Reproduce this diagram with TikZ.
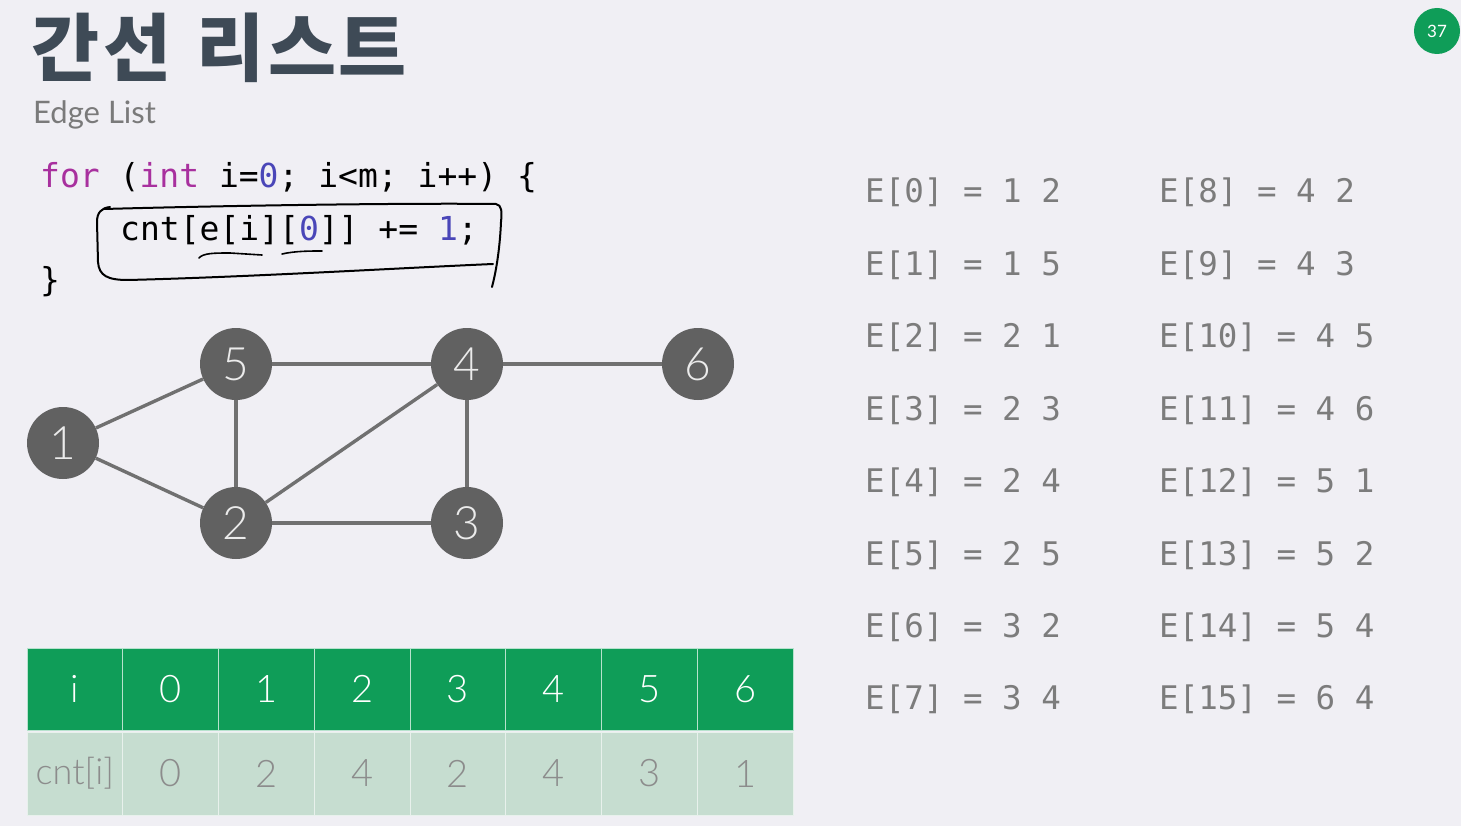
\documentclass[tikz,border=0pt]{standalone}
\usepackage{fontspec}
\setmainfont{Lato}
\newfontfamily\krfont{Noto Sans CJK KR}
\newfontfamily\codefont{DejaVu Sans Mono}
\newfontfamily\lightfont{Lato Light}
\definecolor{bg}{HTML}{F0EFF4}
\definecolor{titlecol}{HTML}{3E4A56}
\definecolor{subcol}{HTML}{7A7A7A}
\definecolor{kwcol}{HTML}{A8309E}
\definecolor{numcol}{HTML}{4A46B8}
\definecolor{nodecol}{HTML}{616161}
\definecolor{edgecol}{HTML}{707070}
\definecolor{hdrgreen}{HTML}{0F9D58}
\definecolor{rowgreen}{HTML}{C6DDD0}
\definecolor{listcol}{HTML}{7C7C7C}
\begin{document}
\begin{tikzpicture}[x=1pt,y=-1pt,
  vertex/.style={circle, fill=nodecol, minimum size=72pt, inner sep=0pt,
    text=white!92!black, font=\lightfont\fontsize{46}{46}\selectfont},
  link/.style={draw=edgecol, line width=3.4pt},
  hdrcell/.style={rectangle, fill=hdrgreen, draw=white!70!hdrgreen, line width=1pt,
    minimum width=95.75pt, minimum height=82pt, inner sep=0pt,
    text=white, font=\lightfont\fontsize{38}{38}\selectfont},
  valcell/.style={rectangle, fill=rowgreen, draw=white!60!rowgreen, line width=1pt,
    minimum width=95.75pt, minimum height=83pt, inner sep=0pt,
    text=black!45, font=\lightfont\fontsize{38}{38}\selectfont},
  codeline/.style={anchor=base west, inner sep=0pt, font=\codefont\fontsize{33}{33}\selectfont},
  listline/.style={anchor=base west, inner sep=0pt, text=listcol,
    font=\codefont\fontsize{32.5}{32.5}\selectfont},
  pen/.style={draw=black, line width=2pt, line cap=round, line join=round}
]
\fill[bg] (0,0) rectangle (1461,826);
\useasboundingbox (0,0) rectangle (1461,826);

% heading
\node[anchor=base west, inner sep=0pt, text=titlecol,
  font=\krfont\bfseries\fontsize{74}{74}\selectfont] (title) at (31,76)
  {간\hspace{4pt}선\hspace{8pt} 리\hspace{4pt}스\hspace{2pt}트};
\node[anchor=base west, inner sep=0pt, text=subcol,
  font=\fontsize{31}{31}\selectfont] (subtitle) at (33,124) {Edge List};

% page badge
\node[circle, fill=hdrgreen, minimum size=46pt, inner sep=0pt, text=white,
  font=\fontsize{17}{17}\selectfont] (badge) at (1437,31) {37};

% code
\node[codeline] (code1) at (40,188) {\textcolor{kwcol}{for} (\textcolor{kwcol}{int} i=\textcolor{numcol}{0}; i<m; i++) \{};
\node[codeline] (code2) at (120,241) {cnt[e[i][\textcolor{numcol}{0}]] += \textcolor{numcol}{1};};
\node[codeline] (code3) at (40,291) {\}};

% hand-drawn marks around the loop body
\draw[pen] (110,207) .. controls (101,208) and (97,213) .. (97,222)
  -- (98,262) .. controls (99,276) and (108,280) .. (128,280)
  .. controls (250,277) and (400,268) .. (493,264);
\draw[pen] (104,209) .. controls (250,205) and (420,203) .. (496,204)
  .. controls (502,205) and (502,212) .. (501,222)
  .. controls (500,245) and (497,268) .. (492,287);
\draw[pen, line width=1.6pt] (199,258) .. controls (203,253) and (215,253) .. (230,253) -- (262,255);
\draw[pen, line width=1.6pt] (282,254) .. controls (295,251) and (310,251) .. (322,251);

% graph
\node[vertex] (v5) at (236,364) {5};
\node[vertex] (v4) at (467,364) {4};
\node[vertex] (v6) at (698,364) {6};
\node[vertex] (v1) at (63,443) {1};
\node[vertex] (v2) at (236,523) {2};
\node[vertex] (v3) at (467,523) {3};
\draw[link] (v1) -- (v5);
\draw[link] (v1) -- (v2);
\draw[link] (v5) -- (v4);
\draw[link] (v5) -- (v2);
\draw[link] (v4) -- (v6);
\draw[link] (v4) -- (v2);
\draw[link] (v4) -- (v3);
\draw[link] (v2) -- (v3);

% degree table
\node[hdrcell] (h0) at ({27+95.75*0.5},689) {\raisebox{-1pt}{i}};
\node[valcell] (c0) at ({27+95.75*0.5},773.5) {\raisebox{-2pt}{\fontsize{36}{36}\selectfont cnt[i]}};
\foreach \k/\v in {0/0,1/2,2/4,3/2,4/4,5/3,6/1} {
  \pgfmathsetmacro{\cx}{27+95.75*(\k+1.5)}
  \node[hdrcell] (h\k x) at (\cx,689) {\raisebox{-1pt}{\k}};
  \node[valcell] (c\k x) at (\cx,773.5) {\raisebox{-2pt}{\v}};
}

% edge list
\foreach \r/\a/\b in {0/1/2,1/1/5,2/2/1,3/2/3,4/2/4,5/2/5,6/3/2,7/3/4} {
  \node[listline] (e\r) at (865,{203+72.4*\r}) {E[\r] = \a\ \b};
}
\foreach \r/\a/\b in {8/4/2,9/4/3,10/4/5,11/4/6,12/5/1,13/5/2,14/5/4,15/6/4} {
  \node[listline] (e\r) at (1159,{203+72.4*(\r-8)}) {E[\r] = \a\ \b};
}
\end{tikzpicture}
\end{document}
